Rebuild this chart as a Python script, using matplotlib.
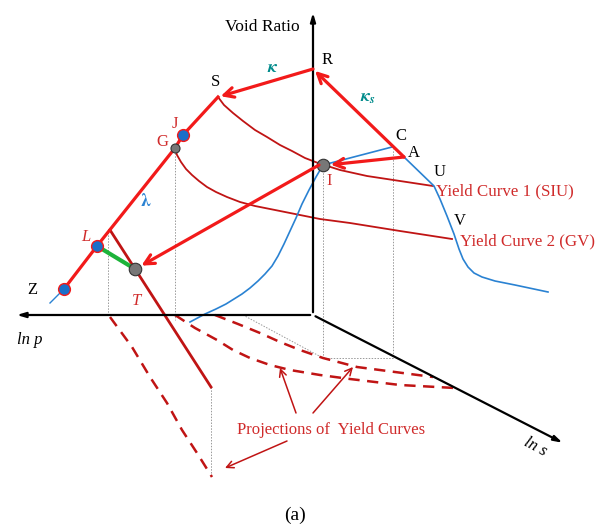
import matplotlib
matplotlib.use('Agg')
import matplotlib.pyplot as plt

plt.rcParams['font.family'] = ['Liberation Serif', 'DejaVu Serif']
plt.rcParams['mathtext.fontset'] = 'stix'

# 圖中各點位置 (像素座標, y 向下)
axis_origin = (313, 315)
axis_up_end = (313, 10)
axis_p_end = (14, 315)
axis_s_end = (565, 444)

pt_R = (313, 69)
pt_S = (218, 97)
pt_A = (404, 157)
pt_C = (392, 147)
pt_I = (323, 165)
pt_U = (434, 186)
pt_J = (183, 135)
pt_G = (175, 148)
pt_L = (97, 246)
pt_Z = (64, 289)
pt_T = (135, 269)
csl_top = (110, 230)
csl_end = (211, 387)

# 主線 (NCL)
ncl_x = [218, 183, 175, 97, 64]
ncl_y = [97, 135, 148, 246, 289]
tail_x = [64, 50]
tail_y = [289, 303]

# 藍色路徑
blue1_x = [392, 323]
blue1_y = [147, 165]
blue2_x = [323, 316, 309, 302, 296, 290, 284, 278, 272, 265, 258, 250, 242, 234, 226, 216, 205, 190]
blue2_y = [165, 177, 190, 204, 218, 231, 244, 256, 266, 274, 281, 288, 294, 299, 304, 309, 314, 322]
blue3_x = [404, 434, 440, 447, 454, 459, 463, 468, 474, 482, 495, 515, 548]
blue3_y = [157, 186, 199, 216, 234, 249, 259, 267, 273, 277, 281, 285, 292]

# 屈服曲線
yc1_x = [218, 224, 233, 243, 255, 267, 280, 292, 305, 318, 340, 367, 400, 433]
yc1_y = [97, 105, 113, 121, 130, 137, 145, 151, 158, 163, 170, 176, 181, 186]
yc2_x = [175, 177, 181, 186, 192, 199, 207, 216, 227, 240, 255, 270, 285, 300, 320, 350, 400, 452]
yc2_y = [148, 155, 162, 169, 175, 181, 187, 192, 197, 202, 206, 209, 212, 215, 219, 223, 231, 239]

# 投影 (虛線)
proj0_x = [110, 132, 150, 167, 182, 197, 212]
proj0_y = [317, 347, 377, 403, 430, 453, 477]
proj1_x = [215, 238, 260, 280, 300, 323, 357, 395, 433]
proj1_y = [315, 324, 333, 342, 350, 358, 367, 372, 377]
proj2_x = [175, 195, 217, 233, 250, 270, 290, 320, 350, 400, 455]
proj2_y = [315, 328, 340, 350, 358, 365, 370, 375, 379, 385, 388]

RED = '#f21a1a'
DRED = '#c01414'
BLUE = '#2a82d2'
TEAL = '#008b8b'
TRED = '#d02b2b'

fig = plt.figure(figsize=(6.04, 5.28), dpi=100)
ax = fig.add_axes([0, 0, 1, 1])
ax.set_xlim(0, 604)
ax.set_ylim(528, 0)
ax.axis('off')

# 座標軸
ax_arr = dict(arrowstyle='-|>,head_length=0.5,head_width=0.15', lw=1.6, color='black')
ax.annotate('', xy=axis_up_end, xytext=axis_origin, arrowprops=ax_arr)
ax.annotate('', xy=axis_p_end, xytext=axis_origin, arrowprops=ax_arr)
ax.annotate('', xy=axis_s_end, xytext=axis_origin, arrowprops=ax_arr)

# 點線
dot = dict(color='#999999', lw=0.7, ls=(0, (1.5, 1.5)))
ax.plot([175, 175], [150, 320], **dot)
ax.plot([108, 108], [232, 316], **dot)
ax.plot([323, 323, 393, 393], [167, 358, 358, 149], **dot)
ax.plot([211, 211], [387, 477], **dot)
ax.plot([243, 323], [315, 358], **dot)

# 虛線投影
dash = dict(color=DRED, lw=1.8, ls=(0, (4.5, 3)))
ax.plot(proj0_x, proj0_y, **dash)
ax.plot(proj1_x, proj1_y, **dash)
ax.plot(proj2_x, proj2_y, **dash)

# 屈服曲線
ax.plot(yc1_x, yc1_y, color=DRED, lw=1.3)
ax.plot(yc2_x, yc2_y, color=DRED, lw=1.3)

# 藍線
ax.plot(blue1_x, blue1_y, color=BLUE, lw=1.2)
ax.plot(blue2_x, blue2_y, color=BLUE, lw=1.2)
ax.plot(blue3_x, blue3_y, color=BLUE, lw=1.2)
ax.plot(tail_x, tail_y, color=BLUE, lw=1.0)

# CSL 線
ax.plot([csl_top[0], csl_end[0]], [csl_top[1], csl_end[1]], color=DRED, lw=2.0)

# NCL 主線
ax.plot(ncl_x, ncl_y, color=RED, lw=2.3)

# 綠線
ax.plot([pt_L[0], pt_T[0]], [pt_L[1], pt_T[1]], color='#1db33a', lw=3)

# 紅色箭頭
arr = dict(arrowstyle='->,head_length=0.7,head_width=0.35', lw=2.3, color=RED, shrinkA=0, shrinkB=2)
ax.annotate('', xy=pt_S, xytext=pt_R, arrowprops=arr)
ax.annotate('', xy=pt_R, xytext=pt_A, arrowprops=arr)
ax.annotate('', xy=(pt_I[0] + 5, pt_I[1]), xytext=pt_A, arrowprops=arr)
ax.annotate('', xy=(pt_T[0] + 4, pt_T[1] - 2), xytext=(pt_I[0] - 4, pt_I[1]), arrowprops=arr)

# 點
ax.plot(*pt_J, 'o', ms=8.5, mfc='#1a6fc9', mec=RED, mew=1.0)
ax.plot(*pt_L, 'o', ms=8.5, mfc='#1a6fc9', mec=RED, mew=1.0)
ax.plot(*pt_Z, 'o', ms=8.5, mfc='#1a6fc9', mec=RED, mew=1.0)
ax.plot(*pt_G, 'o', ms=6.5, mfc='#777777', mec='#333333', mew=0.8)
ax.plot(*pt_I, 'o', ms=9, mfc='#777777', mec='#333333', mew=0.8)
ax.plot(*pt_T, 'o', ms=9, mfc='#777777', mec='#333333', mew=0.8)

# 註解箭頭
note = dict(arrowstyle='->,head_length=0.5,head_width=0.25', lw=1.1, color=DRED, shrinkA=0, shrinkB=0)
ax.annotate('', xy=(280, 368), xytext=(296, 413), arrowprops=note)
ax.annotate('', xy=(353, 367), xytext=(313, 413), arrowprops=note)
ax.annotate('', xy=(225, 468), xytext=(287, 441), arrowprops=note)

# 文字
ax.text(262, 27, 'Void Ratio', fontsize=12.5, ha='center', va='center')
ax.text(30, 340, 'ln p', fontsize=12, ha='center', va='center', style='italic')
ax.text(535, 447, 'ln s', fontsize=12, ha='center', va='center', style='italic', rotation=-28)
ax.text(295, 515, '(a)', fontsize=14, ha='center', va='center')

ax.text(327, 60, 'R', fontsize=12, ha='center', va='center')
ax.text(216, 82, 'S', fontsize=12, ha='center', va='center')
ax.text(401, 136, 'C', fontsize=12, ha='center', va='center')
ax.text(414, 153, 'A', fontsize=12, ha='center', va='center')
ax.text(440, 172, 'U', fontsize=12, ha='center', va='center')
ax.text(460, 221, 'V', fontsize=12, ha='center', va='center')
ax.text(32, 290, 'Z', fontsize=12, ha='center', va='center')
ax.text(329, 181, 'I', fontsize=12, ha='center', va='center', color=TRED)
ax.text(175, 124, 'J', fontsize=12, ha='center', va='center', color=TRED)
ax.text(162, 142, 'G', fontsize=12, ha='center', va='center', color=TRED)
ax.text(86, 237, 'L', fontsize=12, ha='center', va='center', color=TRED, style='italic')
ax.text(137, 301, 'T', fontsize=12, ha='center', va='center', color=TRED, style='italic')

ax.text(273, 68, r'$\boldsymbol{\kappa}$', fontsize=13, ha='center', va='center', color=TEAL)
ax.text(368, 97, r'$\boldsymbol{\kappa}_{\boldsymbol{s}}$', fontsize=13, ha='center', va='center', color=TEAL)
ax.text(146, 202, r'$\boldsymbol{\lambda}$', fontsize=13, ha='center', va='center', color=BLUE)

ax.text(436, 191, 'Yield Curve 1 (SIU)', fontsize=12.2, ha='left', va='center', color=TRED)
ax.text(460, 241, 'Yield Curve 2 (GV)', fontsize=12.2, ha='left', va='center', color=TRED)
ax.text(331, 430, 'Projections of  Yield Curves', fontsize=12, ha='center', va='center', color=TRED)

fig.savefig('out.png', dpi=100)
